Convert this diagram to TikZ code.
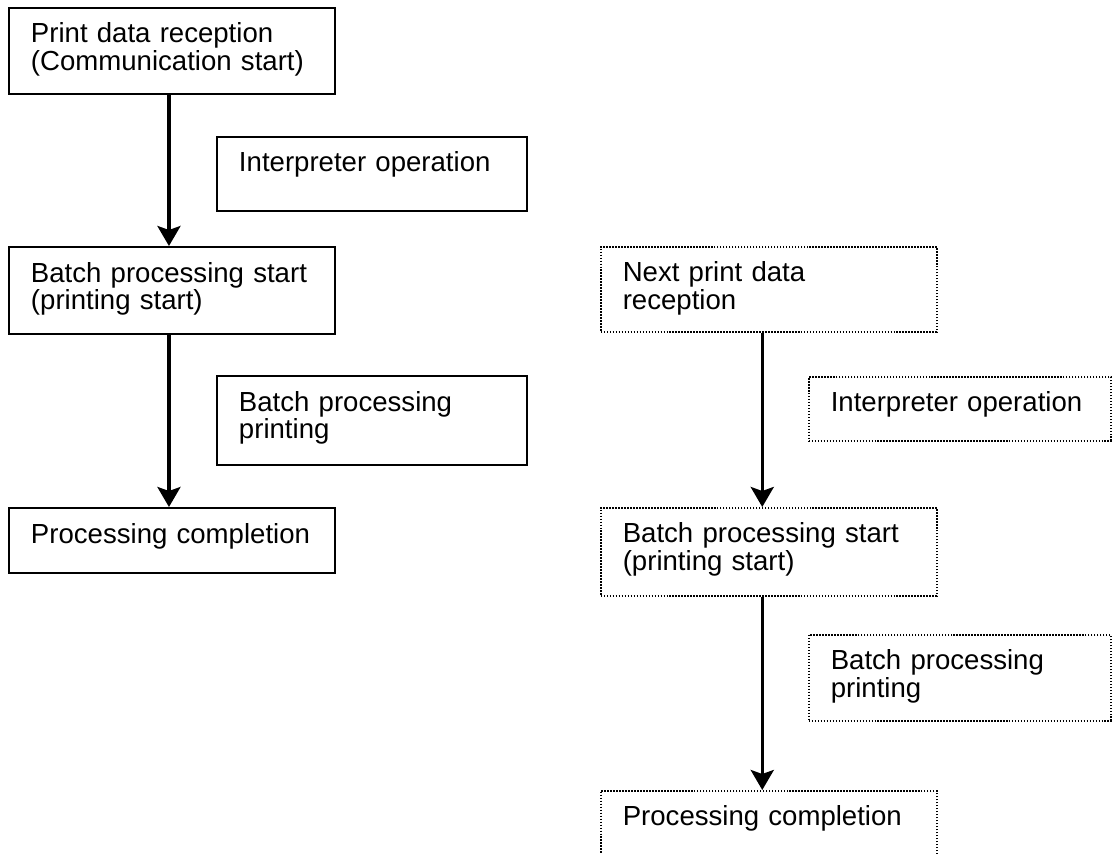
\documentclass[tikz,border=0pt]{standalone}
\usepackage{fontspec}
\setmainfont{Liberation Sans}
\usetikzlibrary{arrows.meta}
\begin{document}
\begin{tikzpicture}[x=0.02cm,y=-0.02cm]
		\tikzstyle{boite} = [draw,rectangle,line width=0.04cm,anchor=north west,align=left,inner xsep=0.44cm,inner ysep=0pt,text height=0.7cm,font=\fontsize{15.7}{15.9}\selectfont];
		\tikzstyle{pointille} = [boite,line width=0.9pt,dash pattern=on 0.9pt off 0.8pt];
		\tikzstyle{gauche} = [minimum width=6.52cm,text width=5.64cm];
		\tikzstyle{milieu} = [minimum width=6.2cm,text width=5.32cm];
		\tikzstyle{droite} = [minimum width=6.72cm,text width=5.84cm];
		\tikzstyle{bord} = [minimum width=6.04cm,text width=5.16cm];
		\tikzstyle{fleche} = [-{Stealth[length=0.4cm,width=0.46cm,inset=0.08cm]},line width=0.07cm];
		
		\clip (0,0) rectangle (1112,853);
		
		% premier traitement
		\node[boite,gauche,text depth=1.02cm] (reception) at (8,7) {Print data reception\\(Communication start)};
		\node[boite,milieu,text depth=0.78cm] (interp) at (216,136) {Interpreter operation};
		\node[boite,gauche,text depth=1.04cm] (debut) at (8,246) {Batch processing start\\(printing start)};
		\node[boite,milieu,text depth=1.08cm] (impr) at (216,375) {Batch processing\\printing};
		\node[boite,gauche,text depth=0.6cm] (fin) at (8,507) {Processing completion};
		
		\draw[fleche] ([xshift=-0.06cm]reception.south) -- ([xshift=-0.06cm]debut.north);
		\draw[fleche] ([xshift=-0.06cm]debut.south) -- ([xshift=-0.06cm]fin.north);
		
		% traitement suivant
		\node[pointille,droite,text depth=1cm] (receptionB) at (600,246) {Next print data\\reception};
		\node[pointille,bord,text depth=0.58cm] (interpB) at (808,376) {Interpreter operation};
		\node[pointille,droite,text depth=1.06cm] (debutB) at (600,507) {Batch processing start\\(printing start)};
		\node[pointille,bord,text depth=1.02cm] (imprB) at (808,634) {Batch processing\\printing};
		\node[pointille,droite,text depth=0.6cm] (finB) at (600,790) {Processing completion};
		
		\draw[fleche] ([xshift=-0.13cm]receptionB.south) -- ([xshift=-0.13cm]debutB.north);
		\draw[fleche] ([xshift=-0.13cm]debutB.south) -- ([xshift=-0.13cm]finB.north);
		
	\end{tikzpicture}
\end{document}
